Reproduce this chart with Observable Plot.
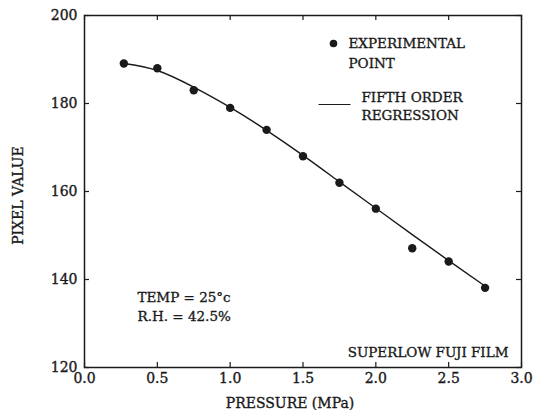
<!DOCTYPE html>
<html>
<head>
<meta charset="utf-8">
<script src="https://cdn.jsdelivr.net/npm/d3@7"></script>
<script src="https://cdn.jsdelivr.net/npm/@observablehq/plot@0.6"></script>
<style>
  html, body { margin: 0; padding: 0; background: #fff; }
  svg { display: block; }
  svg text { stroke: #1a1a1a; stroke-width: 0.35px; }
</style>
</head>
<body>
<div id="chart"></div>
<script>
// Experimental points
const pressure = [0.27, 0.5, 0.75, 1.0, 1.25, 1.5, 1.75, 2.0, 2.25, 2.5, 2.75];
const pixel = [189.1, 188.0, 183.0, 179.0, 174.0, 168.0, 162.0, 156.1, 147.1, 144.1, 138.1];

// Fifth-order regression curve
const fitPressure = [0.27, 0.5, 0.75, 1.0, 1.25, 1.5, 1.75, 2.0, 2.25, 2.5, 2.75];
const fitPixel = [189.1, 187.5, 183.7, 179.1, 173.9, 168.2, 162.2, 156.2, 150.2, 144.3, 138.5];

// Axis ticks
const xTicks = [0.0, 0.5, 1.0, 1.5, 2.0, 2.5, 3.0];
const yTicks = [120, 140, 160, 180, 200];

// Texts
const xLabel = "PRESSURE (MPa)";
const yLabel = "PIXEL VALUE";
const legendPoint = ["EXPERIMENTAL", "POINT"];
const legendLine = ["FIFTH ORDER", "REGRESSION"];
const conditions = ["TEMP = 25°c", "R.H. = 42.5%"];
const filmLabel = "SUPERLOW FUJI FILM";

const points = pressure.map((x, i) => ({x, y: pixel[i]}));
const fit = fitPressure.map((x, i) => ({x, y: fitPixel[i]}));

const W = 533, H = 410;
const mL = 84, mR = 12, mT = 15, mB = 43;
const fw = W - mL - mR, fh = H - mT - mB;
const tick = 5;
const font = "DejaVu Serif";
const ink = "#1a1a1a";
const xDom = [0, 3], yDom = [120, 200];
// pixel -> data helpers for the in-frame legend swatch
const px2x = p => xDom[0] + (p - mL) / fw * (xDom[1] - xDom[0]);
const px2y = p => yDom[1] - (p - mT) / fh * (yDom[1] - yDom[0]);

const chart = Plot.plot({
  width: W,
  height: H,
  marginLeft: mL,
  marginRight: mR,
  marginTop: mT,
  marginBottom: mB,
  style: {fontFamily: font, fontSize: "14px", color: ink, background: "#fff"},
  x: {domain: xDom},
  y: {domain: yDom},
  marks: [
    Plot.frame({stroke: ink, strokeWidth: 1.5}),
    // inward ticks on all four sides
    Plot.tickX(xTicks, {x: d => d, insetTop: fh - tick, stroke: ink, strokeWidth: 1.2}),
    Plot.tickX(xTicks, {x: d => d, insetBottom: fh - tick, stroke: ink, strokeWidth: 1.2}),
    Plot.tickY(yTicks, {y: d => d, insetRight: fw - tick, stroke: ink, strokeWidth: 1.2}),
    Plot.tickY(yTicks, {y: d => d, insetLeft: fw - tick, stroke: ink, strokeWidth: 1.2}),
    // tick labels
    Plot.axisX({ticks: xTicks, tickSize: 0, tickPadding: 6, tickFormat: d => d.toFixed(1), label: null, fontSize: 14, fill: ink}),
    Plot.axisY({ticks: yTicks, tickSize: 0, tickPadding: 7, label: null, fontSize: 14, fill: ink}),
    // axis titles
    Plot.text([xLabel], {frameAnchor: "bottom", textAnchor: "middle", lineAnchor: "middle", dx: -13, dy: 36, fontSize: 14, fill: ink}),
    Plot.text([yLabel], {frameAnchor: "left", textAnchor: "middle", lineAnchor: "middle", rotate: -90, dx: -66, dy: 4, fontSize: 14, fill: ink}),
    // regression curve
    Plot.line(fit, {x: "x", y: "y", curve: "natural", stroke: ink, strokeWidth: 1.4}),
    // experimental points
    Plot.dot(points, {x: "x", y: "y", r: 4.2, fill: ink, stroke: "none"}),
    // legend
    Plot.dot([0], {frameAnchor: "top-left", dx: 333 - mL, dy: 43 - mT, r: 3.8, fill: ink, stroke: "none"}),
    Plot.text([legendPoint[0]], {frameAnchor: "top-left", textAnchor: "start", lineAnchor: "middle", dx: 348 - mL, dy: 43 - mT, fontSize: 13.5, fill: ink}),
    Plot.text([legendPoint[1]], {frameAnchor: "top-left", textAnchor: "start", lineAnchor: "middle", dx: 348 - mL, dy: 63 - mT, fontSize: 13.5, fill: ink}),
    Plot.link([0], {x1: () => px2x(318), x2: () => px2x(350), y1: () => px2y(104), y2: () => px2y(104), stroke: ink, strokeWidth: 1.2}),
    Plot.text([legendLine[0]], {frameAnchor: "top-left", textAnchor: "start", lineAnchor: "middle", dx: 361 - mL, dy: 97 - mT, fontSize: 13.5, fill: ink}),
    Plot.text([legendLine[1]], {frameAnchor: "top-left", textAnchor: "start", lineAnchor: "middle", dx: 361 - mL, dy: 115 - mT, fontSize: 13.5, fill: ink}),
    // conditions
    Plot.text([conditions[0]], {frameAnchor: "top-left", textAnchor: "start", lineAnchor: "middle", dx: 137 - mL, dy: 297 - mT, fontSize: 13.5, fill: ink}),
    Plot.text([conditions[1]], {frameAnchor: "top-left", textAnchor: "start", lineAnchor: "middle", dx: 137 - mL, dy: 316 - mT, fontSize: 13.5, fill: ink}),
    // film label
    Plot.text([filmLabel], {frameAnchor: "bottom-right", textAnchor: "end", lineAnchor: "middle", dx: -13, dy: -15, fontSize: 13.5, fill: ink})
  ]
});

document.getElementById("chart").appendChild(chart);
</script>
</body>
</html>
